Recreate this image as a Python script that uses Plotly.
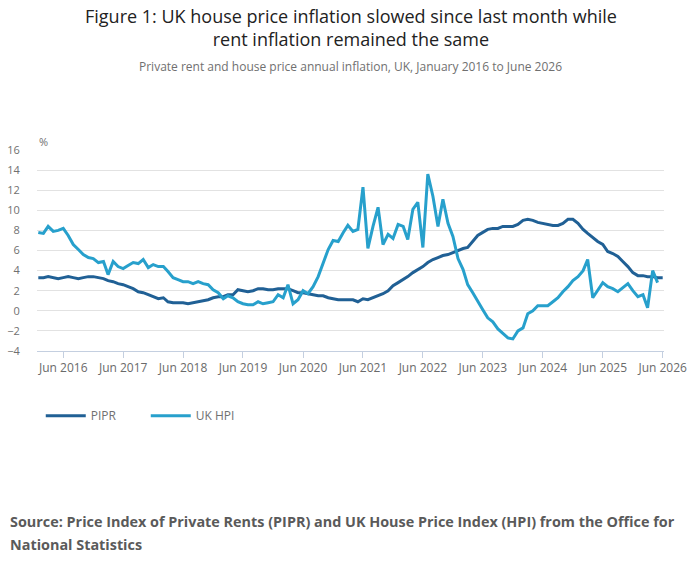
import pandas as pd
import plotly.graph_objects as go

# monthly dates, Jan 2016 to Jun 2026
months = pd.date_range("2016-01-01", "2026-06-01", freq="MS")

# private rents annual inflation (%), Jan 2016 to Jun 2026
pipr = [
    3.3, 3.3, 3.4, 3.3, 3.2, 3.3, 3.4, 3.3, 3.2, 3.3, 3.4, 3.4,
    3.3, 3.2, 3.0, 2.9, 2.7, 2.6, 2.4, 2.2, 1.9, 1.8, 1.6, 1.4,
    1.2, 1.3, 0.9, 0.8, 0.8, 0.8, 0.7, 0.8, 0.9, 1.0, 1.1, 1.3,
    1.4, 1.4, 1.6, 1.6, 2.1, 2.0, 1.9, 2.0, 2.2, 2.2, 2.1, 2.1,
    2.2, 2.2, 2.2, 2.0, 1.8, 1.8, 1.7, 1.6, 1.5, 1.5, 1.3, 1.2,
    1.1, 1.1, 1.1, 1.1, 0.9, 1.2, 1.1, 1.3, 1.5, 1.7, 2.0, 2.5,
    2.8, 3.1, 3.4, 3.8, 4.1, 4.4, 4.8, 5.1, 5.3, 5.5, 5.6, 5.8,
    6.0, 6.2, 6.3, 6.9, 7.5, 7.8, 8.1, 8.2, 8.2, 8.4, 8.4, 8.4,
    8.6, 9.0, 9.1, 9.0, 8.8, 8.7, 8.6, 8.5, 8.5, 8.7, 9.1, 9.1,
    8.7, 8.1, 7.7, 7.3, 6.9, 6.6, 5.9, 5.7, 5.4, 4.9, 4.4, 3.8,
    3.5, 3.5, 3.4, 3.4, 3.3, 3.3,
]

# UK HPI annual inflation (%), Jan 2016 to May 2026
hpi = [
    7.8, 7.7, 8.4, 7.9, 8.0, 8.2, 7.5, 6.6, 6.1, 5.6, 5.3, 5.2,
    4.8, 4.9, 3.6, 4.9, 4.4, 4.2, 4.5, 4.8, 4.7, 5.1, 4.3, 4.6,
    4.4, 4.4, 3.9, 3.3, 3.1, 2.9, 2.9, 2.7, 2.9, 2.7, 2.6, 2.1,
    1.8, 1.2, 1.5, 1.3, 0.9, 0.7, 0.6, 0.6, 0.9, 0.7, 0.8, 0.9,
    1.6, 1.3, 2.6, 0.7, 1.1, 2.0, 1.7, 2.4, 3.4, 4.7, 6.1, 7.0,
    6.9, 7.8, 8.5, 7.9, 8.1, 12.3, 6.2, 8.4, 10.3, 6.6, 7.6, 7.2,
    8.6, 8.4, 7.1, 10.1, 10.8, 6.3, 13.6, 11.4, 8.4, 11.1, 8.7, 7.4,
    5.2, 4.1, 2.6, 1.8, 0.9, 0.1, -0.7, -1.1, -1.8, -2.2, -2.7, -2.8,
    -2.0, -1.7, -0.3, 0.0, 0.5, 0.5, 0.5, 0.9, 1.3, 1.9, 2.4, 3.0,
    3.4, 4.0, 5.1, 1.3, 2.1, 2.8, 2.4, 2.2, 1.9, 2.3, 2.7, 2.0,
    1.4, 1.6, 0.3, 4.0, 2.8,
]

# x tick labels, every June
tick_dates = pd.date_range("2016-06-01", "2026-06-01", freq="12MS")
tick_labels = [d.strftime("Jun %Y") for d in tick_dates]

font = "Open Sans"
grid = "#e2e2e2"
axis_col = "#c4cfe0"

fig = go.Figure()
fig.add_trace(go.Scatter(x=months, y=pipr, name="PIPR", mode="lines",
                         line=dict(color="#206095", width=3)))
fig.add_trace(go.Scatter(x=months[:len(hpi)], y=hpi, name="UK HPI", mode="lines",
                         line=dict(color="#27a0cc", width=3)))

fig.update_xaxes(
    range=["2015-12-24", "2026-06-09"],
    tickvals=tick_dates, ticktext=tick_labels,
    ticks="outside", ticklen=6, tickcolor=axis_col,
    showline=True, linecolor=axis_col, linewidth=1,
    showgrid=False, zeroline=False, automargin=False,
    tickfont=dict(family=font, size=12, color="#6a6a6a"),
)
fig.update_yaxes(
    range=[-4, 16], dtick=2,
    gridcolor=grid, zeroline=False, automargin=False,
    ticks="outside", ticklen=14, tickcolor="rgba(0,0,0,0)",
    tickfont=dict(family=font, size=11, color="#707070"),
)

fig.update_layout(
    width=700, height=574,
    margin=dict(l=37, r=36, t=150, b=223, autoexpand=False),
    plot_bgcolor="white", paper_bgcolor="white",
    font=dict(family=font),
    showlegend=True,
    legend=dict(orientation="h", x=0.006, xanchor="left", y=-0.25, yanchor="top",
                font=dict(family=font, size=12, color="#707070"),
                itemwidth=40, entrywidth=50),
    annotations=[
        dict(text="Figure 1: UK house price inflation slowed since last month while<br>rent inflation remained the same",
             xref="paper", yref="paper", x=0.5, y=1, xanchor="center", yanchor="bottom",
             yshift=97, showarrow=False,
             font=dict(family=font, size=18, color="#222222")),
        dict(text="Private rent and house price annual inflation, UK, January 2016 to June 2026",
             xref="paper", yref="paper", x=0.5, y=1, xanchor="center", yanchor="bottom",
             yshift=73, showarrow=False,
             font=dict(family=font, size=12, color="#707070")),
        dict(text="%", xref="paper", yref="paper", x=0, y=1, xanchor="left", yanchor="bottom",
             yshift=-1, showarrow=False,
             font=dict(family=font, size=11, color="#707070")),
        dict(text="<b>Source: Price Index of Private Rents (PIPR) and UK House Price Index (HPI) from the Office for</b>",
             xref="paper", yref="paper", x=0, y=0, xanchor="left", yanchor="middle", align="left",
             xshift=-29, yshift=-170, showarrow=False,
             font=dict(family=font, size=14.4, color="#5a5a5a")),
        dict(text="<b>National Statistics</b>",
             xref="paper", yref="paper", x=0, y=0, xanchor="left", yanchor="middle", align="left",
             xshift=-29, yshift=-193, showarrow=False,
             font=dict(family=font, size=14.4, color="#5a5a5a")),
    ],
)

# drop the default page margin so the figure sits at the top-left corner
fig.write_html("out.html", config={"displayModeBar": False},
               post_script="document.body.style.margin='0px';")
